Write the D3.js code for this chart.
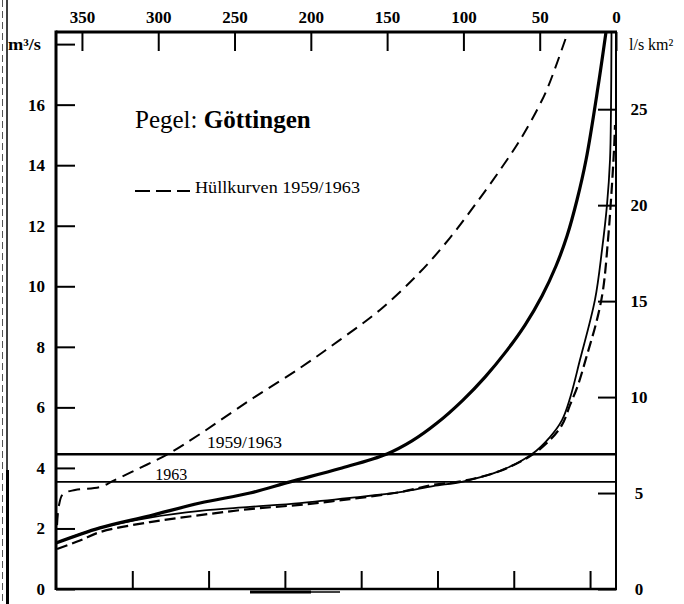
<!DOCTYPE html>
<html>
<head>
<meta charset="utf-8">
<script src="https://d3js.org/d3.v7.min.js"></script>
<style>
  html, body { margin: 0; padding: 0; background: #fff; }
  svg { display: block; }
</style>
</head>
<body>
<svg id="chart" width="684" height="604"></svg>
<script>
// Abflussdauerlinien, Pegel Goettingen (Leine)
// x: Tage, y: Abfluss m3/s

var dayTicks = [350, 300, 250, 200, 150, 100, 50, 0];
var bottomTicks = [317, 267, 217, 167, 117, 67, 17];
var qTicks = [0, 2, 4, 6, 8, 10, 12, 14, 16, 18];
var spendeTicks = [0, 5, 10, 15, 20, 25];

// Einzugsgebiet km2 (fuer l/s km2 Achse)
var area = 634;

var mqValues = [4.45, 3.54];
var mqLabels = ["1959/1963", "1963"];
var mqLabelDays = [268, 302];

// dicke Linie
var thickDays = [367, 338.2, 305.4, 272.6, 239.9, 213.6, 180.9, 150.1, 133.7, 117.3, 100.3, 85.85, 72.74, 59.64, 48.5, 39.32, 32.11, 25.56, 19.66, 11.8, 6.55];
var thickQ    = [1.52, 2.02, 2.42, 2.84, 3.17, 3.54, 3.98, 4.46, 4.89, 5.48, 6.24, 7.00, 7.80, 8.72, 9.68, 10.67, 11.66, 12.85, 14.17, 16.58, 18.40];

// duenne Linie
var thinDays = [367, 338.2, 305.4, 272.6, 239.9, 207.1, 174.3, 141.6, 119.9, 100.3, 76.0, 55.0, 43.3, 35.4, 30.1, 23.6, 13.8, 9.17, 5.9, 3.93, 3.28, 2.95];
var thinQ    = [1.52, 2.02, 2.36, 2.58, 2.71, 2.84, 3.01, 3.20, 3.40, 3.55, 3.90, 4.46, 5.02, 5.58, 6.31, 7.57, 9.55, 11.20, 12.69, 14.17, 15.86, 18.40];

// Huellkurve oben
var upperDays = [366.3, 365.0, 362.4, 354.5, 338.2, 329.6, 311.9, 293.6, 272.6, 239.9, 207.1, 180.9, 154.7, 128.4, 108.8, 92.4, 76.0, 62.9, 51.1, 44.6, 31.5];
var upperQ    = [2.11, 2.78, 3.14, 3.27, 3.37, 3.57, 4.00, 4.46, 5.12, 6.24, 7.30, 8.23, 9.22, 10.47, 11.60, 12.69, 13.84, 14.83, 15.89, 16.58, 18.40];

// Huellkurve unten
var lowerDays = [366.3, 351.3, 338.2, 305.4, 272.6, 239.9, 207.1, 174.3, 141.6, 119.9, 100.3, 76.0, 55.0, 43.3, 35.4, 30.1, 24.9, 19.0, 12.5, 8.5, 5.24, 3.28, 1.31, 0.66];
var lowerQ    = [1.32, 1.60, 1.88, 2.21, 2.44, 2.64, 2.78, 2.97, 3.20, 3.44, 3.57, 3.90, 4.43, 4.92, 5.42, 6.08, 6.74, 7.73, 8.89, 9.88, 11.53, 12.85, 14.50, 15.33];

(function() {

    "use strict";

    var serif = "'Liberation Serif', 'DejaVu Serif', serif";
    var svg = d3.select("#chart");

    var left = 56, right = 616, top = 32, bottom = 589;

    var x = d3.scaleLinear().domain([367, 0]).range([left, right]);
    var y = d3.scaleLinear().domain([0, 18.4]).range([bottom, top]);
    var y2 = d3.scaleLinear().domain([0, 18.4 * 1000 / area]).range([bottom, top]);

    var zip = function(days, q) {
        return days.map(function(d, i) { return {day: d, q: q[i]}; });
    };

    var series = [
        {data: zip(upperDays, upperQ), width: 2, dash: "12,7"},
        {data: zip(lowerDays, lowerQ), width: 2.2, dash: "11,5"},
        {data: zip(thinDays, thinQ), width: 1.8, dash: null},
        {data: zip(thickDays, thickQ), width: 3.2, dash: null}
    ];

    // Seitenrand (Scan)
    svg.append("line").attr("x1", 7).attr("x2", 7).attr("y1", 0).attr("y2", 604)
        .attr("stroke", "#000").attr("stroke-width", 1.5);
    svg.append("line").attr("x1", 7.5).attr("x2", 7.5).attr("y1", 470).attr("y2", 604)
        .attr("stroke", "#000").attr("stroke-width", 3);
    svg.append("line").attr("x1", 2.5).attr("x2", 2.5).attr("y1", 0).attr("y2", 604)
        .attr("stroke", "#555").attr("stroke-width", 1).attr("stroke-dasharray", "7,4");

    var clip = svg.append("defs").append("clipPath").attr("id", "plot");
    clip.append("rect").attr("x", left).attr("y", top).attr("width", right - left).attr("height", bottom - top);

    // Achsen
    var styleAxis = function(g) {
        g.select(".domain").remove();
        g.selectAll(".tick line").attr("stroke", "#000").attr("stroke-width", 2);
        g.selectAll("text").attr("font-family", serif).attr("font-size", 17)
            .attr("font-weight", "bold").attr("fill", "#000");
    };

    svg.append("g")
        .attr("transform", "translate(0," + top + ")")
        .call(d3.axisTop(x).tickValues(dayTicks).tickSize(-19).tickPadding(9))
        .call(styleAxis);

    svg.append("g")
        .attr("transform", "translate(0," + bottom + ")")
        .call(d3.axisBottom(x).tickValues(bottomTicks).tickSize(-18).tickFormat(""))
        .call(styleAxis);

    var leftAxis = svg.append("g")
        .attr("transform", "translate(" + left + ",0)")
        .call(d3.axisLeft(y).tickValues(qTicks).tickSize(-19).tickPadding(11)
            .tickFormat(function(d) { return d === 18 ? "m³/s" : d; }))
        .call(styleAxis);
    leftAxis.selectAll("text").filter(function(d) { return d === 18; })
        .attr("font-size", 16).attr("x", -15).attr("textLength", 33).attr("lengthAdjust", "spacingAndGlyphs");

    var rightAxis = svg.append("g")
        .attr("transform", "translate(" + right + ",0)")
        .call(d3.axisRight(y2).tickValues(spendeTicks).tickSize(-18))
        .call(styleAxis);
    rightAxis.selectAll("text").attr("text-anchor", "middle").attr("x", 23);

    svg.append("text")
        .attr("x", right + 13).attr("y", y(18)).attr("dy", "0.35em")
        .attr("font-family", serif).attr("font-size", 16)
        .text("l/s km²");

    // MQ Linien
    mqValues.forEach(function(v, i) {
        svg.append("line")
            .attr("x1", left).attr("x2", right)
            .attr("y1", y(v)).attr("y2", y(v))
            .attr("stroke", "#000").attr("stroke-width", i === 0 ? 2.6 : 1.8);
        svg.append("text")
            .attr("x", x(mqLabelDays[i])).attr("y", y(v) - (i === 0 ? 6 : 2))
            .attr("font-family", serif).attr("font-size", 16)
            .attr("textLength", i === 0 ? 75 : 32).attr("lengthAdjust", "spacingAndGlyphs")
            .text(mqLabels[i]);
    });

    // Kurven
    var line = d3.line()
        .x(function(d) { return x(d.day); })
        .y(function(d) { return y(d.q); })
        .curve(d3.curveCatmullRom.alpha(0.5));

    svg.append("g").attr("clip-path", "url(#plot)")
        .selectAll("path")
        .data(series)
        .enter().append("path")
        .attr("fill", "none")
        .attr("stroke", "#000")
        .attr("stroke-width", function(d) { return d.width; })
        .attr("stroke-dasharray", function(d) { return d.dash; })
        .attr("d", function(d) { return line(d.data); });

    // Rahmen
    svg.append("line").attr("x1", left).attr("x2", left).attr("y1", top - 1.5).attr("y2", bottom + 1)
        .attr("stroke", "#000").attr("stroke-width", 3);
    svg.append("line").attr("x1", left).attr("x2", right + 1).attr("y1", top).attr("y2", top)
        .attr("stroke", "#000").attr("stroke-width", 3);
    svg.append("line").attr("x1", right).attr("x2", right).attr("y1", top).attr("y2", bottom + 1)
        .attr("stroke", "#000").attr("stroke-width", 2);
    svg.append("line").attr("x1", left).attr("x2", right + 1).attr("y1", bottom).attr("y2", bottom)
        .attr("stroke", "#000").attr("stroke-width", 2.5);

    // Druckspur unter der Achse
    svg.append("line").attr("x1", 250).attr("x2", 311).attr("y1", 592).attr("y2", 592)
        .attr("stroke", "#000").attr("stroke-width", 3);
    svg.append("line").attr("x1", 311).attr("x2", 340).attr("y1", 592).attr("y2", 592)
        .attr("stroke", "#000").attr("stroke-width", 1.5);

    // Titel und Legende
    var title = svg.append("text")
        .attr("x", 135).attr("y", 128)
        .attr("font-family", serif).attr("font-size", 25);
    title.append("tspan").text("Pegel: ");
    title.append("tspan").attr("font-weight", "bold").text("Göttingen");

    svg.append("line")
        .attr("x1", 135).attr("x2", 190).attr("y1", 191).attr("y2", 191)
        .attr("stroke", "#000").attr("stroke-width", 2).attr("stroke-dasharray", "15,6");
    svg.append("text")
        .attr("x", 195).attr("y", 193)
        .attr("font-family", serif).attr("font-size", 17)
        .attr("textLength", 165).attr("lengthAdjust", "spacingAndGlyphs")
        .text("Hüllkurven 1959/1963");

}());
</script>
</body>
</html>
